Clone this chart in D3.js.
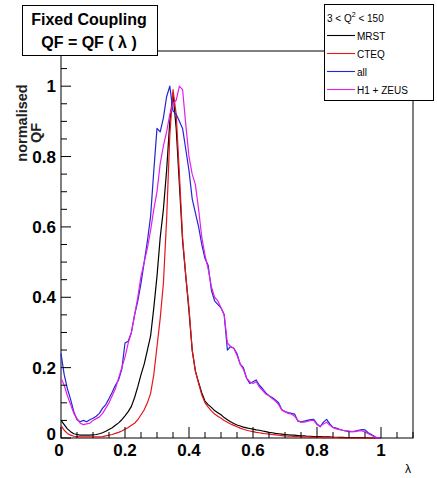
<!DOCTYPE html>
<html>
<head>
<meta charset="utf-8">
<script src="https://cdn.jsdelivr.net/npm/d3@7"></script>
<style>
  body { margin: 0; background: #fff; }
  svg { display: block; font-family: "Liberation Sans", Arial, sans-serif; }
</style>
</head>
<body>
<svg id="chart"></svg>
<script>
// bin centres, lambda = 0.00 ... 1.00
const lambda = d3.range(101).map(i => i / 100);

// combined sample
const allQF = [
  0.24, 0.18, 0.14, 0.11, 0.075, 0.052, 0.046, 0.05, 0.046, 0.052,
  0.056, 0.062, 0.07, 0.085, 0.095, 0.112, 0.13, 0.15, 0.165, 0.195,
  0.27, 0.275, 0.30, 0.35, 0.39, 0.44, 0.50, 0.56, 0.63, 0.76,
  0.88, 0.87, 0.91, 0.97, 1.00, 0.93, 0.92, 0.90, 0.88, 0.82,
  0.76, 0.68, 0.64, 0.60, 0.55, 0.51, 0.49, 0.42, 0.39, 0.38,
  0.37, 0.35, 0.25, 0.26, 0.255, 0.24, 0.21, 0.20, 0.17, 0.155,
  0.16, 0.165, 0.15, 0.14, 0.128, 0.12, 0.115, 0.108, 0.10, 0.08,
  0.075, 0.072, 0.07, 0.068, 0.048, 0.046, 0.048, 0.05, 0.052, 0.053,
  0.04, 0.032, 0.045, 0.053, 0.04, 0.03, 0.028, 0.025, 0.022, 0.02,
  0.018, 0.018, 0.02, 0.022, 0.024, 0.023, 0.015, 0.01, 0.004, 0.0,
  0.0
];

const h1zeusQF = [
  0.17, 0.15, 0.12, 0.095, 0.07, 0.055, 0.042, 0.038, 0.04, 0.042,
  0.05, 0.055, 0.06, 0.07, 0.085, 0.10, 0.12, 0.14, 0.17, 0.20,
  0.23, 0.27, 0.30, 0.35, 0.40, 0.46, 0.50, 0.54, 0.59, 0.65,
  0.70, 0.78, 0.83, 0.87, 0.92, 0.95, 0.96, 1.00, 0.99, 0.89,
  0.80, 0.75, 0.72, 0.65, 0.57, 0.52, 0.48, 0.43, 0.40, 0.39,
  0.37, 0.35, 0.27, 0.26, 0.255, 0.235, 0.21, 0.195, 0.17, 0.16,
  0.155, 0.16, 0.145, 0.135, 0.125, 0.12, 0.112, 0.105, 0.095, 0.08,
  0.075, 0.07, 0.068, 0.062, 0.05, 0.045, 0.045, 0.047, 0.05, 0.05,
  0.038, 0.033, 0.04, 0.045, 0.036, 0.03, 0.026, 0.024, 0.022, 0.02,
  0.02, 0.018, 0.018, 0.02, 0.02, 0.018, 0.012, 0.008, 0.003, 0.0,
  0.0
];

const mrstQF = [
  0.05, 0.038, 0.026, 0.018, 0.012, 0.01, 0.008, 0.008, 0.008, 0.008,
  0.009, 0.01, 0.012, 0.015, 0.019, 0.024, 0.029, 0.036, 0.043, 0.052,
  0.063, 0.075, 0.09, 0.115, 0.146, 0.18, 0.21, 0.25, 0.29, 0.37,
  0.46, 0.57, 0.65, 0.76, 0.90, 0.98, 0.88, 0.72, 0.56, 0.46,
  0.36, 0.25, 0.19, 0.158, 0.128, 0.105, 0.095, 0.087, 0.078, 0.072,
  0.066, 0.058, 0.052, 0.046, 0.041, 0.037, 0.034, 0.031, 0.029, 0.027,
  0.025, 0.023, 0.022, 0.02, 0.018, 0.016, 0.015, 0.013, 0.012, 0.011,
  0.01, 0.009, 0.008, 0.008, 0.007, 0.006, 0.006, 0.005, 0.005, 0.004,
  0.004, 0.004, 0.003, 0.003, 0.003, 0.002, 0.002, 0.002, 0.002, 0.001,
  0.001, 0.001, 0.001, 0.001, 0.001, 0.0, 0.0, 0.0, 0.0, 0.0,
  0.0
];

const cteqQF = [
  0.035, 0.022, 0.013, 0.008, 0.005, 0.004, 0.003, 0.003, 0.003, 0.003,
  0.003, 0.003, 0.003, 0.004, 0.006, 0.008, 0.01, 0.013, 0.016, 0.02,
  0.025, 0.03, 0.036, 0.042, 0.052, 0.066, 0.08, 0.10, 0.127, 0.18,
  0.26, 0.34, 0.44, 0.62, 0.86, 0.99, 0.92, 0.75, 0.57, 0.46,
  0.37, 0.25, 0.19, 0.155, 0.122, 0.10, 0.088, 0.077, 0.068, 0.062,
  0.056, 0.05, 0.045, 0.04, 0.036, 0.032, 0.028, 0.025, 0.022, 0.02,
  0.018, 0.016, 0.015, 0.013, 0.012, 0.011, 0.01, 0.009, 0.008, 0.007,
  0.006, 0.005, 0.005, 0.004, 0.004, 0.003, 0.003, 0.003, 0.002, 0.002,
  0.002, 0.002, 0.001, 0.001, 0.001, 0.001, 0.001, 0.0, 0.0, 0.0,
  0.0, 0.0, 0.0, 0.0, 0.0, 0.0, 0.0, 0.0, 0.0, 0.0,
  0.0
];

const seriesNames = ['MRST', 'CTEQ', 'all', 'H1 + ZEUS'];
const seriesColors = ['#000000', '#e8141c', '#2424d8', '#e020e8'];
const seriesValues = [mrstQF, cteqQF, allQF, h1zeusQF];

const xTicks = [0, 0.2, 0.4, 0.6, 0.8, 1];
const yTicks = [0, 0.2, 0.4, 0.6, 0.8, 1];

// dimensions
const W = 437, H = 478;
const frame = { left: 61, right: 413, top: 51, bottom: 438 };

const svg = d3.select('#chart')
  .attr('width', W)
  .attr('height', H);

svg.append('rect').attr('width', W).attr('height', H).attr('fill', '#fff');

const x = d3.scaleLinear().domain([0, 1.1]).range([frame.left, frame.right]);
const y = d3.scaleLinear().domain([0, 1.1]).range([frame.bottom, frame.top]);

// frame
svg.append('rect')
  .attr('x', frame.left)
  .attr('y', frame.top)
  .attr('width', frame.right - frame.left)
  .attr('height', frame.bottom - frame.top)
  .attr('fill', 'none')
  .attr('stroke', '#000')
  .attr('stroke-width', 1);

// curves
const line = d3.line()
  .x((d, i) => x(lambda[i]))
  .y(d => y(d));

seriesValues.forEach((vals, k) => {
  svg.append('path')
    .datum(vals)
    .attr('d', line)
    .attr('fill', 'none')
    .attr('stroke', seriesColors[k])
    .attr('stroke-width', 1.2)
    .attr('stroke-linejoin', 'round');
});

// x axis, ticks pointing into the frame
const minor = d3.range(0, 1.1001, 0.05);
const isMajor = d => Math.abs(d * 5 - Math.round(d * 5)) < 1e-6;

const xAxis = svg.append('g').attr('transform', `translate(0,${frame.bottom})`);
xAxis.selectAll('line')
  .data(minor)
  .enter().append('line')
  .attr('x1', d => x(d)).attr('x2', d => x(d))
  .attr('y1', 0)
  .attr('y2', d => (isMajor(d) ? -11 : -6))
  .attr('stroke', '#000');
xAxis.selectAll('text')
  .data(xTicks)
  .enter().append('text')
  .attr('x', d => x(d) - (d === 0 ? 2 : 0))
  .attr('y', 18)
  .attr('text-anchor', 'middle')
  .attr('font-size', 17)
  .attr('font-weight', 'bold')
  .text(d => d3.format('~g')(d));

// y axis
const yAxis = svg.append('g').attr('transform', `translate(${frame.left},0)`);
yAxis.selectAll('line')
  .data(minor)
  .enter().append('line')
  .attr('y1', d => y(d)).attr('y2', d => y(d))
  .attr('x1', 0)
  .attr('x2', d => (isMajor(d) ? 10 : 6))
  .attr('stroke', '#000');
yAxis.selectAll('text')
  .data(yTicks)
  .enter().append('text')
  .attr('x', -5)
  .attr('y', d => y(d) + (d === 0 ? 2 : 6))
  .attr('text-anchor', 'end')
  .attr('font-size', 17)
  .attr('font-weight', 'bold')
  .text(d => d3.format('~g')(d));

// axis titles
svg.append('text')
  .attr('transform', 'translate(27,123) rotate(-90)')
  .attr('text-anchor', 'middle')
  .attr('font-size', 14.5)
  .attr('font-weight', 'bold')
  .attr('fill', '#222')
  .text('normalised');
svg.append('text')
  .attr('transform', 'translate(41,133) rotate(-90)')
  .attr('text-anchor', 'middle')
  .attr('font-size', 14.5)
  .attr('font-weight', 'bold')
  .attr('fill', '#222')
  .text('QF');
svg.append('text')
  .attr('x', 411)
  .attr('y', 473)
  .attr('text-anchor', 'end')
  .attr('font-size', 12)
  .text('λ');

// title pave
svg.append('rect')
  .attr('x', 22.5).attr('y', 5.5)
  .attr('width', 135).attr('height', 50)
  .attr('fill', '#fff')
  .attr('stroke', '#000');
svg.append('text')
  .attr('x', 89).attr('y', 25)
  .attr('text-anchor', 'middle')
  .attr('font-size', 16)
  .attr('font-weight', 'bold')
  .text('Fixed Coupling');
svg.append('text')
  .attr('x', 89).attr('y', 48)
  .attr('text-anchor', 'middle')
  .attr('font-size', 16)
  .attr('font-weight', 'bold')
  .text('QF = QF ( λ )');

// legend
const leg = svg.append('g');
leg.append('rect')
  .attr('x', 324.5).attr('y', 4.5)
  .attr('width', 109).attr('height', 96)
  .attr('fill', '#fff')
  .attr('stroke', '#000');
const head = leg.append('text')
  .attr('x', 327).attr('y', 22)
  .attr('font-size', 10);
head.append('tspan').text('3 < Q');
head.append('tspan').attr('dy', -5).attr('font-size', 7).text('2');
head.append('tspan').attr('dy', 5).text(' < 150');

seriesNames.forEach((name, k) => {
  const ly = 35.5 + k * 18;
  leg.append('line')
    .attr('x1', 327).attr('x2', 355)
    .attr('y1', ly).attr('y2', ly)
    .attr('stroke', seriesColors[k])
    .attr('stroke-width', 1.1);
  leg.append('text')
    .attr('x', 357).attr('y', ly + 4)
    .attr('font-size', 10)
    .text(name);
});
</script>
</body>
</html>
